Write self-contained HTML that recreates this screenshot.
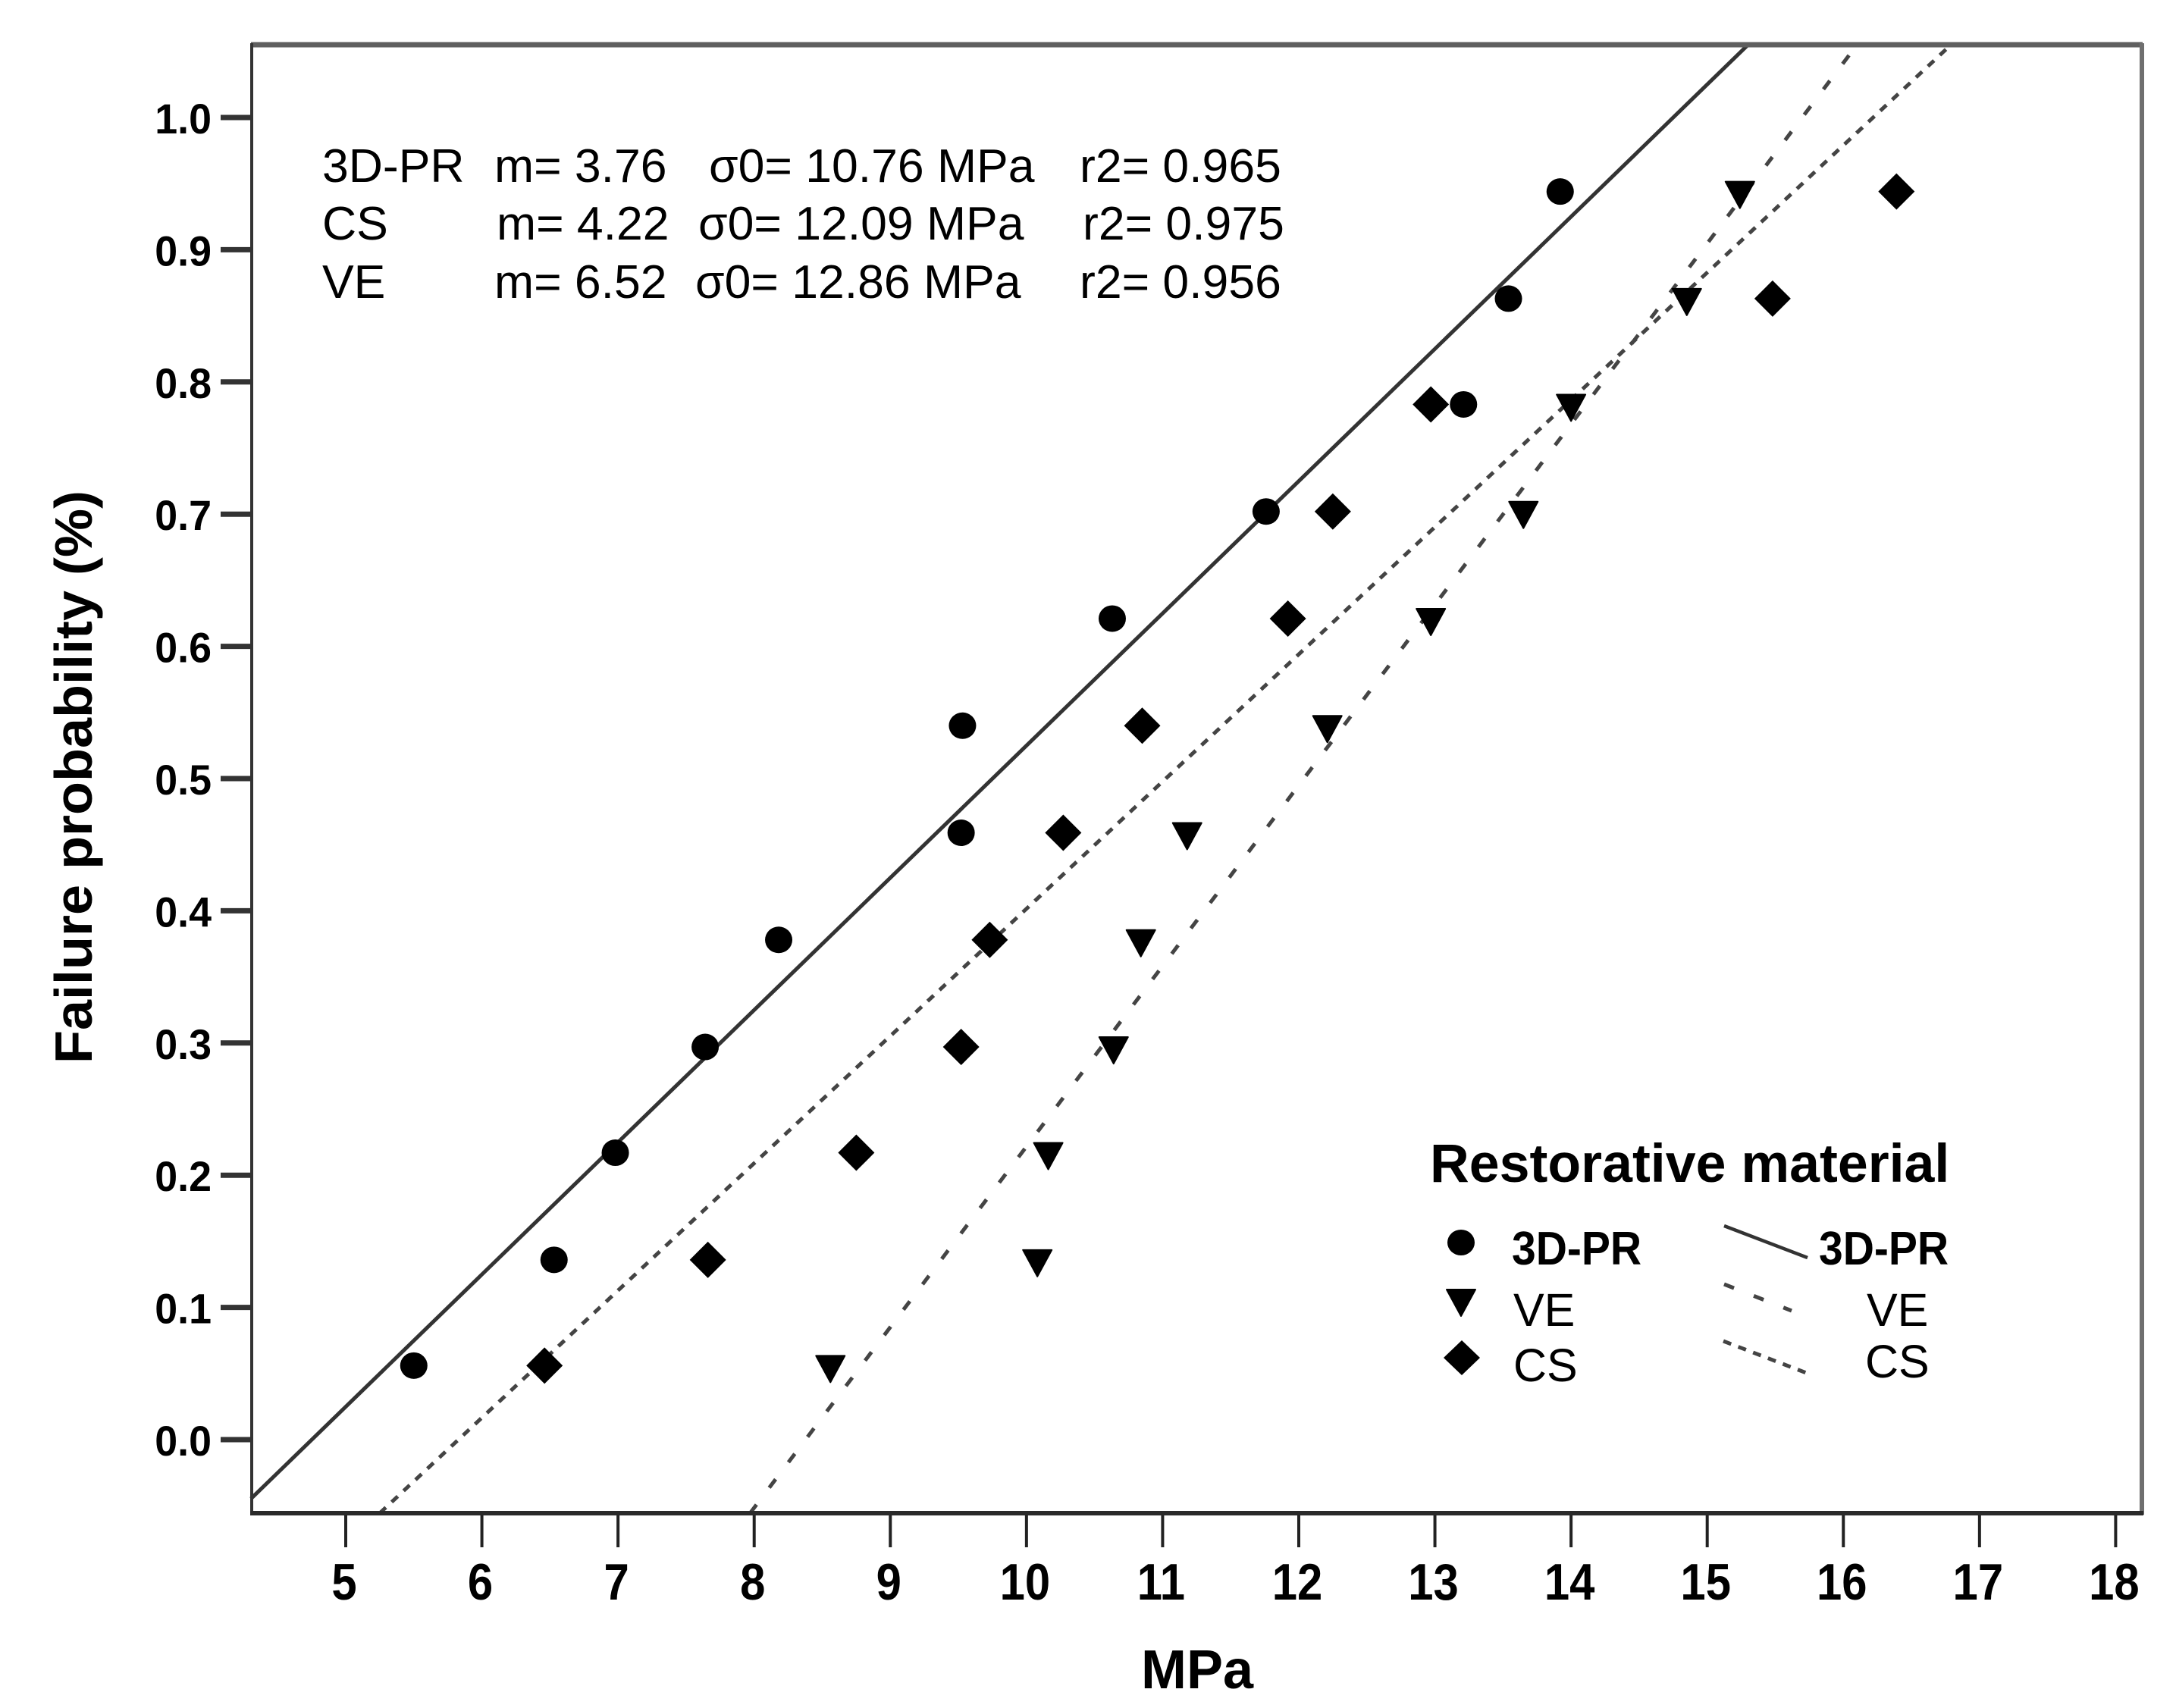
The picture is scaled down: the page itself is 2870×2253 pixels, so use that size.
<!DOCTYPE html>
<html>
<head>
<meta charset="utf-8">
<title>Failure probability chart</title>
<style>
html,body{margin:0;padding:0;background:#fff}
svg{display:block}
text{font-family:"Liberation Sans",sans-serif;fill:#000}
.b{font-weight:700}
.note{font-size:62.5px}
</style>
</head>
<body>
<svg id="chart" xmlns="http://www.w3.org/2000/svg" width="2870" height="2253" viewBox="0 0 2870 2253">
<rect x="0" y="0" width="2870" height="2253" fill="#fff"/>
<g id="axes"></g>
<g id="fits"></g>
<g id="points"></g>

<line x1="331" y1="59" x2="2826" y2="59" stroke="#5f5f5f" stroke-width="7"/>
<line x1="2825" y1="57" x2="2825" y2="1998" stroke="#6f6f6f" stroke-width="6"/>
<line x1="332" y1="57" x2="332" y2="1998" stroke="#333" stroke-width="4"/>
<line x1="330" y1="1996" x2="2827" y2="1996" stroke="#2a2a2a" stroke-width="6"/>

<text class="b" x="1579" y="2227" font-size="72" text-anchor="middle">MPa</text>
<text class="b" transform="translate(121,1025) rotate(-90)" font-size="70" text-anchor="middle" textLength="756" lengthAdjust="spacingAndGlyphs">Failure probability (%)</text>

<g>
<text class="note" x="425" y="240">3D-PR</text>
<text class="note" x="652" y="240">m= 3.76</text>
<text class="note" x="935" y="240">σ0= 10.76 MPa</text>
<text class="note" x="1424" y="240">r2= 0.965</text>
<text class="note" x="425" y="316">CS</text>
<text class="note" x="655" y="316">m= 4.22</text>
<text class="note" x="921" y="316">σ0= 12.09 MPa</text>
<text class="note" x="1428" y="316">r2= 0.975</text>
<text class="note" x="425" y="393">VE</text>
<text class="note" x="652" y="393">m= 6.52</text>
<text class="note" x="917" y="393">σ0= 12.86 MPa</text>
<text class="note" x="1424" y="393">r2= 0.956</text>
</g>

<g>
<text class="b" x="1886" y="1559" font-size="71.7">Restorative material</text>
<ellipse cx="1927" cy="1639" rx="18" ry="17" fill="#000"/>
<polygon points="1908,1701 1946,1701 1927,1736" fill="#000" stroke="#000" stroke-width="2" stroke-linejoin="round"/>
<polygon points="1928,1768 1952,1791 1928,1814 1904,1791" fill="#000"/>
<text class="b" transform="translate(1994,1668) scale(.92,1)" font-size="62">3D-PR</text>
<text x="1996" y="1749" font-size="61">VE</text>
<text x="1996" y="1822" font-size="61">CS</text>
<line x1="2274" y1="1617" x2="2384" y2="1659" stroke="#333" stroke-width="4.5"/>
<line x1="2274" y1="1694" x2="2363" y2="1729" stroke="#444" stroke-width="5" stroke-dasharray="14 28"/>
<line x1="2273" y1="1769" x2="2385" y2="1812" stroke="#444" stroke-width="5" stroke-dasharray="11 10"/>
<text class="b" transform="translate(2399,1668) scale(.92,1)" font-size="62">3D-PR</text>
<text x="2462" y="1749" font-size="61">VE</text>
<text x="2460" y="1817" font-size="61">CS</text>
</g>
</svg>
<script>
// Chart data
const xTicks = [5,6,7,8,9,10,11,12,13,14,15,16,17,18];
const yTicks = ["0.0","0.1","0.2","0.3","0.4","0.5","0.6","0.7","0.8","0.9","1.0"];
const yRank = [0.056,0.136,0.217,0.297,0.378,0.459,0.540,0.621,0.702,0.783,0.863,0.944];
const pr3dStrength = [5.50,6.53,6.98,7.64,8.18,9.52,9.53,10.63,11.76,13.21,13.54,13.92];
const veStrength = [8.56,10.08,10.16,10.64,10.84,11.18,12.21,12.97,13.65,14.00,14.85,15.24];
const csStrength = [6.46,7.66,8.75,9.52,9.73,10.27,10.85,11.92,12.25,12.97,15.48,16.39];
const pr3dFitX = [4.304,15.30];
const pr3dFitY = [-0.0447,1.055];
const veFitX = [7.97,16.10];
const veFitY = [-0.0556,1.055];
const csFitX = [5.25,16.79];
const csFitY = [-0.0556,1.055];

// Axis functions
function sx(v){ return 456 + (v - 5) * 179.57; }
function sy(v){ return 1899 - v * 1744; }

const NS = 'http://www.w3.org/2000/svg';
function mk(parent, tag, attrs){
  const el = document.createElementNS(NS, tag);
  for (const k in attrs) el.setAttribute(k, attrs[k]);
  parent.appendChild(el);
  return el;
}
const axes = document.getElementById('axes');
const fits = document.getElementById('fits');
const points = document.getElementById('points');

xTicks.forEach(function(t){
  const tick = mk(axes, 'line', {x1:sx(t), x2:sx(t), y1:1996, y2:2041, stroke:'#222', 'stroke-width':4});
  
  
  const lab = mk(axes, 'text', {transform:'translate(' + (sx(t) - 2) + ',2110) scale(.88,1)', 'font-size':68, 'font-weight':700, 'text-anchor':'middle'});
  lab.textContent = t;
  
  
});
yTicks.forEach(function(t){
  const v = parseFloat(t);
  const tick = mk(axes, 'line', {x1:291, x2:332, y1:sy(v), y2:sy(v), stroke:'#333', 'stroke-width':7});
  
  
  const lab = mk(axes, 'text', {transform:'translate(279,' + (sy(v) + 21) + ') scale(.96,1)', 'font-size':56, 'font-weight':700, 'text-anchor':'end'});
  lab.textContent = t;
  
  
});

const solidFit = mk(fits, 'line', {x1:sx(pr3dFitX[0]), y1:sy(pr3dFitY[0]), x2:sx(pr3dFitX[1]), y2:sy(pr3dFitY[1]), stroke:'#333', 'stroke-width':5});


const veFit = mk(fits, 'line', {x1:sx(veFitX[0]), y1:sy(veFitY[0]), x2:sx(veFitX[1]), y2:sy(veFitY[1]), stroke:'#444', 'stroke-width':5, 'stroke-dasharray':'14 28'});


const csFit = mk(fits, 'line', {x1:sx(csFitX[0]), y1:sy(csFitY[0]), x2:sx(csFitX[1]), y2:sy(csFitY[1]), stroke:'#444', 'stroke-width':5, 'stroke-dasharray':'11 10.5'});



pr3dStrength.forEach(function(v, i){
  const m = mk(points, 'ellipse', {cx:sx(v), cy:sy(yRank[i]), rx:18, ry:17.5, fill:'#000'});
  
  
});
veStrength.forEach(function(v, i){
  const px = sx(v), py = sy(yRank[i]);
  const m = mk(points, 'polygon', {points:(px-19)+','+(py-13)+' '+(px+19)+','+(py-13)+' '+px+','+(py+22), fill:'#000', stroke:'#000', 'stroke-width':2, 'stroke-linejoin':'round'});
  
  
});
csStrength.forEach(function(v, i){
  const px = sx(v), py = sy(yRank[i]);
  const m = mk(points, 'polygon', {points:px+','+(py-24)+' '+(px+24)+','+py+' '+px+','+(py+24)+' '+(px-24)+','+py, fill:'#000'});
  
  
});
</script>
</body>
</html>
